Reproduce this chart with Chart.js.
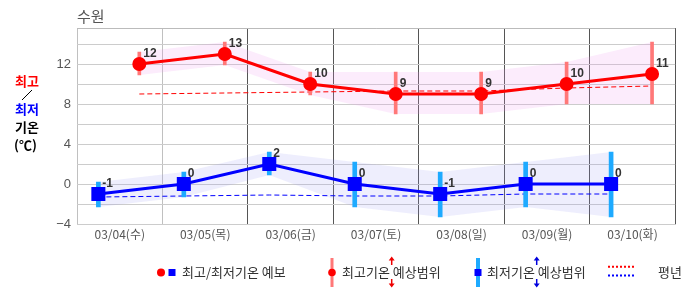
<!DOCTYPE html>
<html>
<head>
<meta charset="utf-8">
<script src="https://cdn.jsdelivr.net/npm/chart.js@4"></script>
<style>
  body { margin: 0; background: #fff; }
  #wrap { width: 686px; height: 295px; position: relative; }
</style>
</head>
<body>
<div id="wrap"><canvas id="tempChart"></canvas></div>
<script>
// forecast data
const days = ['03/04(수)', '03/05(목)', '03/06(금)', '03/07(토)', '03/08(일)', '03/09(월)', '03/10(화)'];
const highTemps = [12, 13, 10, 9, 9, 10, 11];
const lowTemps = [-1, 0, 2, 0, -1, 0, 0];
const highRangeMax = [13.2, 14.2, 11.2, 11.2, 11.2, 12.2, 14.2];
const highRangeMin = [10.9, 11.9, 8.9, 7.0, 7.0, 8.0, 8.0];
const lowRangeMax = [0.2, 1.2, 3.2, 2.2, 1.2, 2.2, 3.2];
const lowRangeMin = [-2.3, -1.3, 0.9, -2.3, -3.3, -2.3, -3.3];
const normalHigh = [9.0, 9.1, 9.2, 9.3, 9.3, 9.6, 9.8];
const normalLow = [-1.3, -1.2, -1.1, -1.2, -1.2, -1.0, -1.0];
const yLabels = [-4, 0, 4, 8, 12];
const lowHour = 6;    // morning low
const highHour = 17.5; // afternoon high

const KR = "'Noto Sans CJK KR', sans-serif";

// x value = day index + fraction of the day
function pts(values, hour) {
  return values.map((v, i) => ({ x: i + hour / 24, y: v }));
}
function rangePts(mins, maxs, hour) {
  return mins.map((v, i) => ({ x: i + hour / 24, y: [v, maxs[i]] }));
}

// bold value labels next to the points
const valueLabels = {
  id: 'valueLabels',
  afterDatasetsDraw(chart) {
    const ctx = chart.ctx;
    ctx.save();
    ctx.font = "bold 12px 'Liberation Sans', Arial, sans-serif";
    ctx.fillStyle = '#333';
    ctx.textAlign = 'left';
    ctx.textBaseline = 'middle';
    chart.data.datasets.forEach((ds, di) => {
      if (!ds.showValues) return;
      chart.getDatasetMeta(di).data.forEach((p, i) => {
        ctx.fillText(String(ds.data[i].y), p.x + 4, p.y - 10);
      });
    });
    ctx.restore();
  }
};

// title, y-axis caption and legend
const decorations = {
  id: 'decorations',
  afterDraw(chart) {
    const ctx = chart.ctx;
    ctx.save();
    ctx.textBaseline = 'middle';
    ctx.textAlign = 'left';

    ctx.font = '15px ' + KR;
    ctx.fillStyle = '#555';
    ctx.fillText('수원', 77, 16);

    ctx.font = 'bold 13px ' + KR;
    ctx.fillStyle = '#f00';
    ctx.fillText('최고', 15, 81);
    ctx.strokeStyle = '#000';
    ctx.lineWidth = 1;
    ctx.beginPath();
    ctx.moveTo(22, 100);
    ctx.lineTo(32, 90);
    ctx.stroke();
    ctx.fillStyle = '#00f';
    ctx.fillText('최저', 15, 109);
    ctx.fillStyle = '#000';
    ctx.fillText('기온', 15, 127);
    ctx.fillText('(℃)', 14, 145);

    // legend
    const ly = 272.5;
    ctx.font = '13px ' + KR;
    ctx.fillStyle = '#f00';
    ctx.beginPath(); ctx.arc(161, ly, 4, 0, Math.PI * 2); ctx.fill();
    ctx.fillStyle = '#00f';
    ctx.fillRect(168.5, ly - 3.5, 7, 7);
    ctx.fillStyle = '#333';
    ctx.fillText('최고/최저기온 예보', 182, ly);

    ctx.fillStyle = '#ff7878';
    ctx.fillRect(330.5, 258, 3, 29);
    ctx.fillStyle = '#f00';
    ctx.beginPath(); ctx.arc(332, ly, 3.8, 0, Math.PI * 2); ctx.fill();
    ctx.fillStyle = '#333';
    ctx.fillText('최고기온 예상범위', 342, ly);

    ctx.fillStyle = '#1eaaff';
    ctx.fillRect(476, 258, 4, 29);
    ctx.fillStyle = '#00f';
    ctx.fillRect(474.5, ly - 3.5, 7, 7);
    ctx.fillStyle = '#333';
    ctx.fillText('최저기온 예상범위', 487, ly);

    function arrows(x, color) {
      ctx.strokeStyle = color;
      ctx.fillStyle = color;
      ctx.lineWidth = 1.5;
      ctx.beginPath();
      ctx.moveTo(x, 265); ctx.lineTo(x, 259);
      ctx.moveTo(x, 279); ctx.lineTo(x, 285);
      ctx.stroke();
      ctx.beginPath();
      ctx.moveTo(x, 256.5); ctx.lineTo(x - 3, 260.5); ctx.lineTo(x + 3, 260.5); ctx.closePath();
      ctx.moveTo(x, 287.5); ctx.lineTo(x - 3, 283.5); ctx.lineTo(x + 3, 283.5); ctx.closePath();
      ctx.fill();
    }
    arrows(391.7, '#e00');
    arrows(536.7, '#00d');

    ctx.lineWidth = 2;
    ctx.setLineDash([2, 2]);
    ctx.strokeStyle = '#f00';
    ctx.beginPath(); ctx.moveTo(608, 266.7); ctx.lineTo(636, 266.7); ctx.stroke();
    ctx.strokeStyle = '#00f';
    ctx.beginPath(); ctx.moveTo(608, 275.4); ctx.lineTo(636, 275.4); ctx.stroke();
    ctx.setLineDash([]);
    ctx.fillStyle = '#333';
    ctx.fillText('평년', 658, ly);

    ctx.restore();
  }
};

const ctx = document.getElementById('tempChart').getContext('2d');
new Chart(ctx, {
  type: 'line',
  data: {
    datasets: [
      {
        label: '최고기온',
        data: pts(highTemps, highHour),
        borderColor: '#f00',
        backgroundColor: '#f00',
        borderWidth: 3,
        pointRadius: 5.5,
        pointStyle: 'circle',
        showValues: true,
        order: 0
      },
      {
        label: '최저기온',
        data: pts(lowTemps, lowHour),
        borderColor: '#00f',
        backgroundColor: '#00f',
        borderWidth: 3,
        pointRadius: 7.8,
        pointStyle: 'rect',
        showValues: true,
        order: 0
      },
      {
        type: 'bar',
        label: '최고기온 예상범위',
        data: rangePts(highRangeMin, highRangeMax, highHour),
        backgroundColor: '#ff7878',
        barThickness: 3,
        grouped: false,
        order: 1
      },
      {
        type: 'bar',
        label: '최저기온 예상범위',
        data: rangePts(lowRangeMin, lowRangeMax, lowHour),
        backgroundColor: '#1eaaff',
        barThickness: 4,
        grouped: false,
        order: 1
      },
      {
        label: '평년 최고',
        data: pts(normalHigh, highHour),
        borderColor: '#f00',
        borderWidth: 1,
        borderDash: [5, 3],
        pointRadius: 0,
        order: 2
      },
      {
        label: '평년 최저',
        data: pts(normalLow, lowHour),
        borderColor: '#00f',
        borderWidth: 1,
        borderDash: [5, 3],
        pointRadius: 0,
        order: 2
      },
      {
        label: 'high band top',
        data: pts(highRangeMax, highHour),
        borderWidth: 0,
        pointRadius: 0,
        fill: '+1',
        backgroundColor: 'rgba(240,150,240,0.18)',
        order: 3
      },
      {
        label: 'high band bottom',
        data: pts(highRangeMin, highHour),
        borderWidth: 0,
        pointRadius: 0,
        order: 3
      },
      {
        label: 'low band top',
        data: pts(lowRangeMax, lowHour),
        borderWidth: 0,
        pointRadius: 0,
        fill: '+1',
        backgroundColor: 'rgba(150,150,240,0.16)',
        order: 3
      },
      {
        label: 'low band bottom',
        data: pts(lowRangeMin, lowHour),
        borderWidth: 0,
        pointRadius: 0,
        order: 3
      }
    ]
  },
  options: {
    responsive: true,
    maintainAspectRatio: false,
    animation: false,
    events: [],
    layout: { padding: { top: 28, right: 1, left: 0, bottom: 0 } },
    plugins: {
      legend: { display: false },
      tooltip: { enabled: false },
      title: { display: false }
    },
    scales: {
      x: {
        type: 'linear',
        min: 0,
        max: days.length,
        offset: false,
        afterBuildTicks(scale) {
          scale.ticks = days.map((d, i) => ({ value: i + 0.5 }));
        },
        afterFit(scale) { scale.height = 71; },
        grid: {
          offset: true,
          drawTicks: false,
          color: c => (c.index <= 1 ? '#c0c0c0' : '#555')
        },
        border: { display: true, color: '#ccc' },
        ticks: {
          padding: 3,
          maxRotation: 0,
          autoSkip: false,
          color: '#555',
          font: { family: KR, size: 12 },
          callback: (v, i) => days[i]
        }
      },
      y: {
        min: -4,
        max: 15.6,
        afterBuildTicks(scale) {
          const t = [];
          for (let v = -4; v <= 14; v += 2) t.push({ value: v });
          t.push({ value: 15.6 });
          scale.ticks = t;
        },
        afterFit(scale) { scale.width = 77; },
        grid: {
          drawTicks: false,
          color: c => (c.tick && c.tick.value === 15.6 ? '#bbb' : '#ccc')
        },
        border: { display: false },
        ticks: {
          padding: 6,
          color: '#555',
          font: { family: "'Liberation Sans', Arial, sans-serif", size: 13 },
          callback: v => (yLabels.includes(v) ? String(v).replace('-', '\u2212') : '')
        }
      }
    }
  },
  plugins: [valueLabels, decorations]
});
</script>
</body>
</html>
